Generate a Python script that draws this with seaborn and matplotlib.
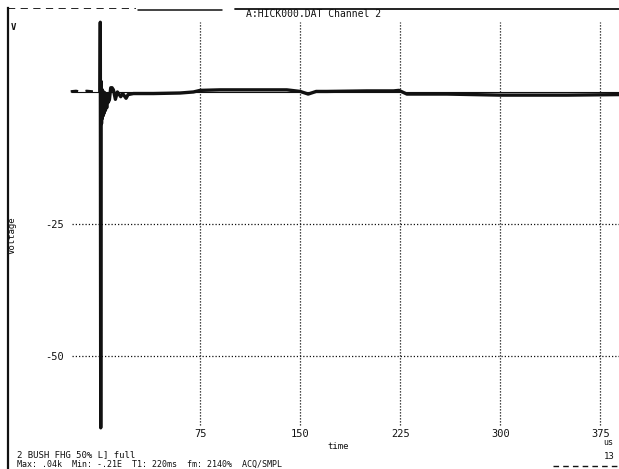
import numpy as np
import pandas as pd
import matplotlib
matplotlib.use("Agg")
import matplotlib.pyplot as plt
import seaborn as sns

# Channel 2 record: time in microseconds, voltage in volts
pre_time = [-22, -18, -14, -10, -6, -2, 0]
pre_volt = [0.1, 0.2, 0.0, 0.2, 0.1, 0.2, 0.0]

time_us = [0.0, 0.2, 0.5, 0.8, 1.1, 1.4, 1.7, 2.0, 2.4, 2.8, 3.2, 3.6, 4.0,
           4.5, 5.0, 5.5, 6.0, 7.0, 8.0, 9.0, 10.0, 11.5, 13.0, 15.5, 17.0,
           19.5, 21.0, 25.0, 40.0, 60.0, 70.0, 75.0, 90.0, 120.0, 140.0,
           150.0, 156.0, 162.0, 170.0, 200.0, 220.0, 224.0, 230.0, 260.0,
           300.0, 350.0, 389.0]
volt = [0.0, 13.2, -63.6, 2.0, -6.0, 0.5, -5.0, 0.0, -4.5, 0.0, -4.0, -0.2,
        -3.5, -0.5, -3.0, -0.5, -2.0, -1.5, 0.8, 0.8, 0.4, -1.4, 0.0, -0.9,
        -0.3, -1.2, -0.5, -0.3, -0.3, -0.2, 0.0, 0.3, 0.4, 0.4, 0.4, 0.1,
        -0.4, 0.1, 0.1, 0.2, 0.2, 0.3, -0.4, -0.4, -0.6, -0.6, -0.5]

x_ticks = [75, 150, 225, 300, 375]
y_ticks = [-25, -50]
y_tick_labels = ["-25", "-50"]

W, H = 619, 469
sns.set_theme(style="white")
plt.rcParams["font.family"] = ["DejaVu Sans Mono", "DejaVu Sans"]

fig = plt.figure(figsize=(W / 100, H / 100), dpi=100)
ax = fig.add_axes([8 / W, 0.0, 1 - 8 / W, (H - 8) / H])

x_lo, x_hi = -69, 389
y_lo, y_hi = -71.4, 15.9
ax.set_xlim(x_lo, x_hi)
ax.set_ylim(y_lo, y_hi)

def fx(px):
    return px / W

def fy(py):
    return 1 - py / H

ink = "#111111"

# dotted grid
for xv in x_ticks:
    ax.vlines(xv, -63.0, 13.3, colors=ink, lw=0.9, linestyles=(0, (1, 1.4)))
for yv in y_ticks:
    ax.hlines(yv, -21, x_hi, colors=ink, lw=0.9, linestyles=(0, (1, 1.6)))

# zero reference
ax.hlines(0, -22, x_hi, colors=ink, lw=0.8)

# trace
df_pre = pd.DataFrame({"t": pre_time, "v": pre_volt})
df = pd.DataFrame({"t": time_us, "v": volt})
sns.lineplot(data=df_pre, x="t", y="v", ax=ax, color=ink, lw=1.8,
             linestyle=(0, (3, 3)), sort=False)
sns.lineplot(data=df, x="t", y="v", ax=ax, color=ink, lw=2.4, sort=False)

# frame
for s in ["right", "bottom", "top"]:
    ax.spines[s].set_visible(False)
ax.spines["left"].set_color(ink)
ax.spines["left"].set_linewidth(1.6)
ax.axhline(y_hi, xmin=0.0, xmax=0.21, color=ink, lw=1.3, ls=(0, (4, 3)))
ax.axhline(y_hi - 0.4, xmin=0.212, xmax=0.35, color=ink, lw=1.1)
ax.axhline(y_hi - 0.1, xmin=0.372, xmax=1.0, color=ink, lw=1.3)

# ticks inside the frame
ax.set_xticks(x_ticks)
ax.set_xticklabels([str(v) for v in x_ticks])
ax.set_yticks(y_ticks)
ax.set_yticklabels(y_tick_labels)
ax.tick_params(axis="x", length=0, pad=-29, labelsize=7.5, colors=ink)
ax.tick_params(axis="y", length=0, pad=-40, labelsize=7.5, colors=ink)

ax.set_xlabel("time", fontsize=6.5, color=ink)
ax.set_ylabel("Voltage", fontsize=6.5, color=ink)
ax.xaxis.set_label_coords((338 - 8) / (W - 8), (H - 442) / (H - 8))
ax.yaxis.set_label_coords((17 - 8) / (W - 8), 1 - (235 - 8) / (H - 8))

fig.text(fx(314), fy(14), "A:HICK000.DAT Channel 2", fontsize=7,
         ha="center", va="center", color=ink)
fig.text(fx(13), fy(27), "V", fontsize=6.5, ha="center", va="center",
         color=ink, weight="bold")
fig.text(fx(608), fy(442), "us", fontsize=6, ha="center", va="center",
         color=ink)
fig.text(fx(609), fy(456), "13", fontsize=6.5, ha="center", va="center",
         color=ink)
fig.add_artist(plt.Line2D([fx(553), fx(619)], [fy(466), fy(466)],
                          color=ink, lw=1.0, ls=(0, (4, 3))))
fig.text(fx(17), fy(455), "2 BUSH FHG 50% L] full", fontsize=6.5,
         ha="left", va="center", color=ink)
fig.text(fx(17), fy(464), "Max: .04k  Min: -.21E  T1: 220ms  fm: 2140%  ACQ/SMPL",
         fontsize=6, ha="left", va="center", color=ink)

fig.savefig("out.png", dpi=100, facecolor="white")
